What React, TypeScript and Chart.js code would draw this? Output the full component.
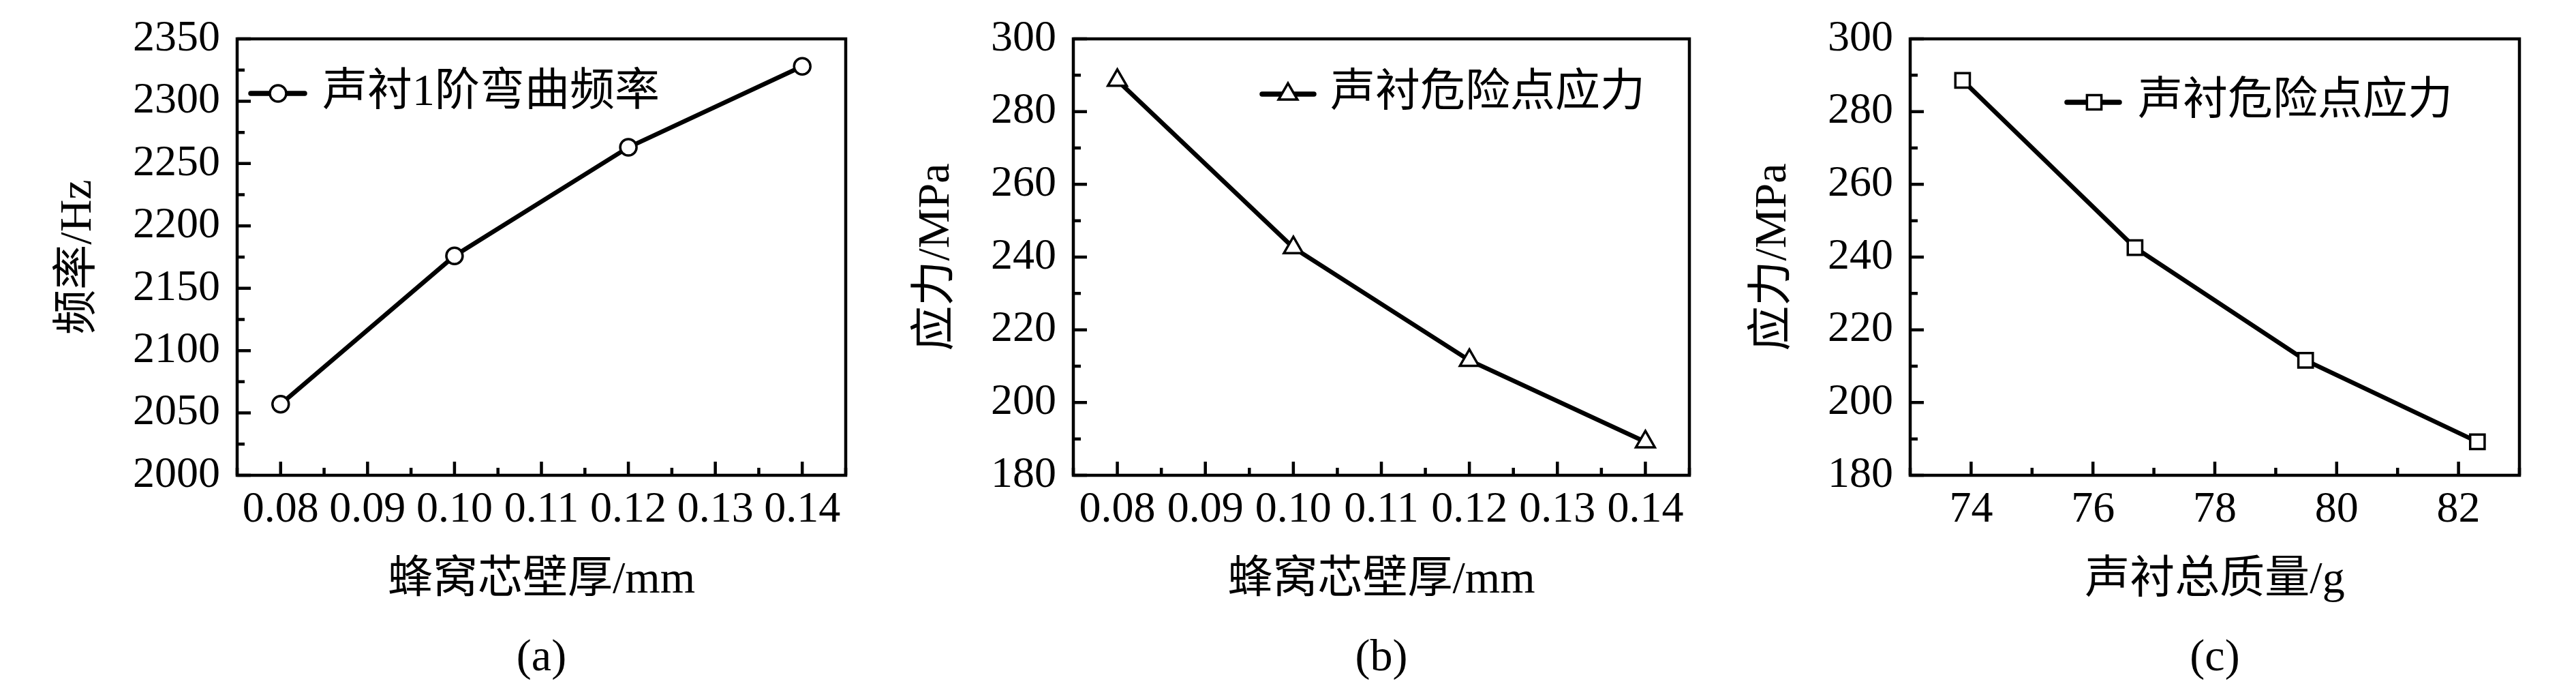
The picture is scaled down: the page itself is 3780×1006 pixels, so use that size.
import React, { useEffect, useRef } from 'react';
import { Chart, registerables } from 'chart.js';
import { drawPoint } from 'chart.js/helpers';

Chart.register(...registerables);

// data
const thickness = [0.08, 0.10, 0.12, 0.14];
const frequency = [2057, 2176, 2263, 2328];
const stressByThickness = [288.6, 242.6, 211.6, 189.2];
const totalMass = [73.86, 76.69, 79.49, 82.31];
const stressByMass = [288.6, 242.6, 211.6, 189.2];

const FONT = "'Liberation Serif', 'Times New Roman', 'Noto Sans CJK SC', serif";
Chart.defaults.font.family = FONT;

interface PanelSpec {
  xs: number[];
  ys: number[];
  xMin: number; xMax: number; xStep: number; xMajor: number; xDigits: number;
  yMin: number; yMax: number; yStep: number; yMajor: number;
  xTitle: string; yTitle: string; caption: string;
  yAxisWidth: number; padRight: number; yTitlePad: number;
  pointStyle: 'circle' | 'triangle' | 'rect';
  pointRadius: number;
  legend: { text: string; lineFrom: number; lineTo: number; markerX: number; y: number; textX: number };
}

const isStep = (v: number, step: number) => {
  const r = v / step;
  return Math.abs(r - Math.round(r)) < 1e-6;
};

const panels: PanelSpec[] = [
  {
    xs: thickness, ys: frequency,
    xMin: 0.075, xMax: 0.145, xStep: 0.005, xMajor: 0.01, xDigits: 2,
    yMin: 2000, yMax: 2350, yStep: 25, yMajor: 50,
    xTitle: '蜂窝芯壁厚/mm', yTitle: '频率/Hz', caption: '(a)',
    yAxisWidth: 348, padRight: 13, yTitlePad: 83,
    pointStyle: 'circle', pointRadius: 12,
    legend: { text: '声衬1阶弯曲频率', lineFrom: 20, lineTo: 99, markerX: 60, y: 80, textX: 125 },
  },
  {
    xs: thickness, ys: stressByThickness,
    xMin: 0.075, xMax: 0.145, xStep: 0.005, xMajor: 0.01, xDigits: 2,
    yMin: 180, yMax: 300, yStep: 10, yMajor: 20,
    xTitle: '蜂窝芯壁厚/mm', yTitle: '应力/MPa', caption: '(b)',
    yAxisWidth: 315, padRight: 41, yTitlePad: 82,
    pointStyle: 'triangle', pointRadius: 16,
    legend: { text: '声衬危险点应力', lineFrom: 277, lineTo: 353, markerX: 315, y: 81, textX: 377 },
  },
  {
    xs: totalMass, ys: stressByMass,
    xMin: 73, xMax: 83, xStep: 1, xMajor: 2, xDigits: 0,
    yMin: 180, yMax: 300, yStep: 10, yMajor: 20,
    xTitle: '声衬总质量/g', yTitle: '应力/MPa', caption: '(c)',
    yAxisWidth: 283, padRight: 83, yTitlePad: 50,
    pointStyle: 'rect', pointRadius: 15,
    legend: { text: '声衬危险点应力', lineFrom: 230, lineTo: 307, markerX: 270, y: 93, textX: 334 },
  },
];

const PANEL_W = 1260;
const PANEL_H = 1006;

const Panel: React.FC<{ spec: PanelSpec }> = ({ spec }) => {
  const chartRef = useRef<HTMLCanvasElement>(null);
  const chartInstanceRef = useRef<Chart | null>(null);

  useEffect(() => {
    if (!chartRef.current) return;
    if (chartInstanceRef.current) chartInstanceRef.current.destroy();
    const ctx = chartRef.current.getContext('2d');
    if (!ctx) return;

    // frame + inward ticks (major / minor)
    const frameTicks = {
      id: 'frameTicks',
      beforeDatasetsDraw(chart: Chart) {
        const { ctx: c, chartArea } = chart;
        const { left, right, top, bottom } = chartArea;
        const xs = chart.scales.x;
        const ys = chart.scales.y;
        c.save();
        c.strokeStyle = '#000';
        c.lineWidth = 4.5;
        c.beginPath();
        xs.ticks.forEach((t) => {
          const px = xs.getPixelForValue(t.value);
          const len = isStep(t.value, spec.xMajor) ? 20 : 11;
          c.moveTo(px, bottom);
          c.lineTo(px, bottom - len);
        });
        ys.ticks.forEach((t) => {
          const py = ys.getPixelForValue(t.value);
          const len = isStep(t.value, spec.yMajor) ? 20 : 11;
          c.moveTo(left, py);
          c.lineTo(left + len, py);
        });
        c.stroke();
        c.strokeRect(left, top, right - left, bottom - top);
        c.restore();
      },
    };

    const legendBox = {
      id: 'legendBox',
      afterDatasetsDraw(chart: Chart) {
        const { ctx: c, chartArea } = chart;
        const L = spec.legend;
        const y = chartArea.top + L.y;
        const x0 = chartArea.left;
        c.save();
        c.strokeStyle = '#000';
        c.lineWidth = 7.5;
        c.lineCap = 'round';
        c.beginPath();
        c.moveTo(x0 + L.lineFrom, y);
        c.lineTo(x0 + L.lineTo, y);
        c.stroke();
        c.lineCap = 'butt';
        c.fillStyle = '#fff';
        c.lineWidth = 3.5;
        drawPoint(c, { pointStyle: spec.pointStyle, radius: spec.pointRadius, borderWidth: 3.5, rotation: 0 } as any, x0 + L.markerX, y);
        c.fillStyle = '#000';
        c.font = `66px ${FONT}`;
        c.textBaseline = 'middle';
        c.textAlign = 'left';
        c.fillText(L.text, x0 + L.textX, y);
        c.restore();
      },
    };

    const tickFont = { family: FONT, size: 64, lineHeight: 1 };
    const titleFont = { family: FONT, size: 66, lineHeight: 1, weight: 'normal' as const };

    chartInstanceRef.current = new Chart(ctx, {
      type: 'line',
      data: {
        datasets: [{
          data: spec.xs.map((x, i) => ({ x, y: spec.ys[i] })),
          borderColor: '#000',
          borderWidth: 6.5,
          tension: 0,
          pointStyle: spec.pointStyle,
          pointRadius: spec.pointRadius,
          pointHoverRadius: spec.pointRadius,
          pointBorderWidth: 3.5,
          pointBackgroundColor: '#fff',
          pointBorderColor: '#000',
          clip: false,
        }],
      },
      options: {
        animation: false,
        responsive: false,
        events: [],
        layout: { padding: { top: 35, right: spec.padRight, bottom: 0, left: 0 } },
        plugins: {
          legend: { display: false },
          tooltip: { enabled: false },
          title: {
            display: true,
            text: spec.caption,
            position: 'bottom',
            fullSize: false,
            color: '#000',
            font: titleFont,
            padding: { top: 0, bottom: 7 },
          },
        },
        scales: {
          x: {
            type: 'linear',
            min: spec.xMin,
            max: spec.xMax,
            afterFit: (s: any) => { s.height = 236; },
            border: { display: false },
            grid: { display: false, drawTicks: false },
            ticks: {
              stepSize: spec.xStep,
              autoSkip: false,
              maxRotation: 0,
              minRotation: 0,
              padding: 19,
              color: '#000',
              font: tickFont,
              callback: (v: any) => (isStep(Number(v), spec.xMajor) ? Number(v).toFixed(spec.xDigits) : ''),
            },
            title: {
              display: true,
              text: spec.xTitle,
              color: '#000',
              font: titleFont,
              padding: { top: 0, bottom: 48 },
            },
          },
          y: {
            type: 'linear',
            min: spec.yMin,
            max: spec.yMax,
            afterFit: (s: any) => { s.width = spec.yAxisWidth; },
            border: { display: false },
            grid: { display: false, drawTicks: false },
            ticks: {
              stepSize: spec.yStep,
              autoSkip: false,
              padding: 25,
              color: '#000',
              font: tickFont,
              callback: (v: any) => (isStep(Number(v), spec.yMajor) ? String(Math.round(Number(v))) : ''),
            },
            title: {
              display: true,
              text: spec.yTitle,
              color: '#000',
              font: titleFont,
              padding: { top: spec.yTitlePad, bottom: 0 },
            },
          },
        },
      },
      plugins: [frameTicks, legendBox],
    } as any);

    return () => {
      if (chartInstanceRef.current) {
        chartInstanceRef.current.destroy();
        chartInstanceRef.current = null;
      }
    };
  }, [spec]);

  return (
    <canvas
      ref={chartRef}
      width={PANEL_W}
      height={PANEL_H}
      style={{ display: 'block', width: PANEL_W, height: PANEL_H }}
    />
  );
};

export default function App() {
  return (
    <div
      style={{
        position: 'absolute',
        left: 0,
        top: 0,
        width: 3780,
        height: 1006,
        display: 'flex',
        background: '#fff',
      }}
    >
      {panels.map((p) => (
        <Panel key={p.caption} spec={p} />
      ))}
    </div>
  );
}
